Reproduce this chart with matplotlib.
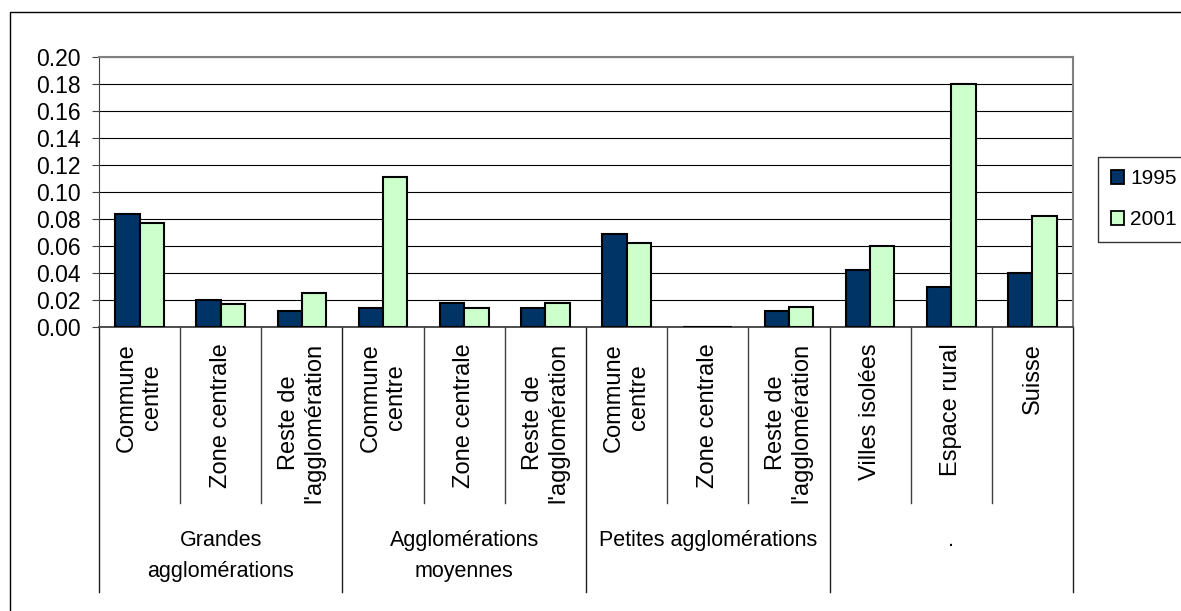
import numpy as np
import matplotlib

matplotlib.use("Agg")

import matplotlib.pyplot as plt
from matplotlib.patches import Rectangle, Patch

plt.rcParams["font.family"] = ["Liberation Sans", "DejaVu Sans"]

categories = [
    "Commune\ncentre", "Zone centrale", "Reste de\nl'agglomération",
    "Commune\ncentre", "Zone centrale", "Reste de\nl'agglomération",
    "Commune\ncentre", "Zone centrale", "Reste de\nl'agglomération",
    "Villes isolées", "Espace rural", "Suisse",
]
groups = ["Grandes\nagglomérations", "Agglomérations\nmoyennes",
          "Petites agglomérations", "."]
group_sizes = [3, 3, 3, 3]

values_1995 = [0.084, 0.020, 0.012, 0.014, 0.018, 0.014,
               0.069, 0.000, 0.012, 0.042, 0.030, 0.040]
values_2001 = [0.077, 0.017, 0.025, 0.111, 0.014, 0.018,
               0.062, 0.000, 0.015, 0.060, 0.180, 0.082]

W, H = 1181, 611
fig = plt.figure(figsize=(W / 100, H / 100), dpi=100)

# outer chart frame
fig.patches.append(Rectangle((10 / W, -0.05), 1.1, 1 - 12 / H + 0.05,
                             transform=fig.transFigure, fill=False,
                             edgecolor="black", linewidth=1.0))

x0, x1, ytop, ybot = 99, 1073, 57, 327
ax = fig.add_axes([x0 / W, 1 - ybot / H, (x1 - x0) / W, (ybot - ytop) / H])

x = np.arange(len(categories))
bw = 0.3
ax.bar(x - bw / 2, values_1995, bw, color="#003366", edgecolor="black",
       linewidth=1.5, label="1995", zorder=3)
ax.bar(x + bw / 2, values_2001, bw, color="#CCFFCC", edgecolor="black",
       linewidth=1.5, label="2001", zorder=3)

ax.set_xlim(-0.5, len(categories) - 0.5)
ax.set_ylim(0, 0.20)
ax.set_yticks(np.arange(0, 0.201, 0.02))
ax.set_yticklabels(["%.2f" % v for v in np.arange(0, 0.201, 0.02)])
ax.tick_params(axis="y", length=5, pad=8, labelsize=16.5, color="#404040")
ax.set_xticks([])
ax.grid(axis="y", color="black", linewidth=0.8, zorder=0)

ax.spines["top"].set_color("#808080")
ax.spines["right"].set_color("#808080")
ax.spines["top"].set_linewidth(1.5)
ax.spines["right"].set_linewidth(1.5)
ax.spines["left"].set_color("#404040")
ax.spines["bottom"].set_color("#404040")
ax.spines["bottom"].set_linewidth(1.3)

trans = ax.get_xaxis_transform()
ph = ybot - ytop

# category labels and separators
for i, lab in enumerate(categories):
    ax.text(i, -(343 - ybot) / ph, lab, transform=trans, rotation=90,
            ha="center", va="top", multialignment="center", fontsize=17,
            linespacing=1.2)

bounds = np.cumsum([0] + group_sizes) - 0.5
for i in range(1, len(categories)):
    b = i - 0.5
    if b in bounds:
        continue
    ax.plot([b, b], [0, -(503 - ybot) / ph], transform=trans, color="#404040",
            linewidth=1.0, clip_on=False)
for b in bounds:
    ax.plot([b, b], [0, -(592 - ybot) / ph], transform=trans, color="#202020",
            linewidth=1.0, clip_on=False)

for g, name in enumerate(groups):
    c = (bounds[g] + bounds[g + 1]) / 2
    ax.text(c, -(530 - ybot) / ph, name, transform=trans, ha="center",
            va="top", fontsize=15.5, linespacing=1.6)

handles = [Patch(facecolor="#003366", edgecolor="black", linewidth=1.3),
           Patch(facecolor="#CCFFCC", edgecolor="black", linewidth=1.3)]
leg = fig.legend(handles, ["1995", "2001"], loc="upper left",
                 bbox_to_anchor=(1098 / W, 1 - 157 / H), fontsize=15,
                 frameon=True, fancybox=False, edgecolor="black",
                 handlelength=0.65, handleheight=0.65, handletextpad=0.3,
                 labelspacing=1.05, borderpad=0.6, borderaxespad=0)
leg.get_frame().set_linewidth(1.0)

fig.savefig("out.png", dpi=100)
